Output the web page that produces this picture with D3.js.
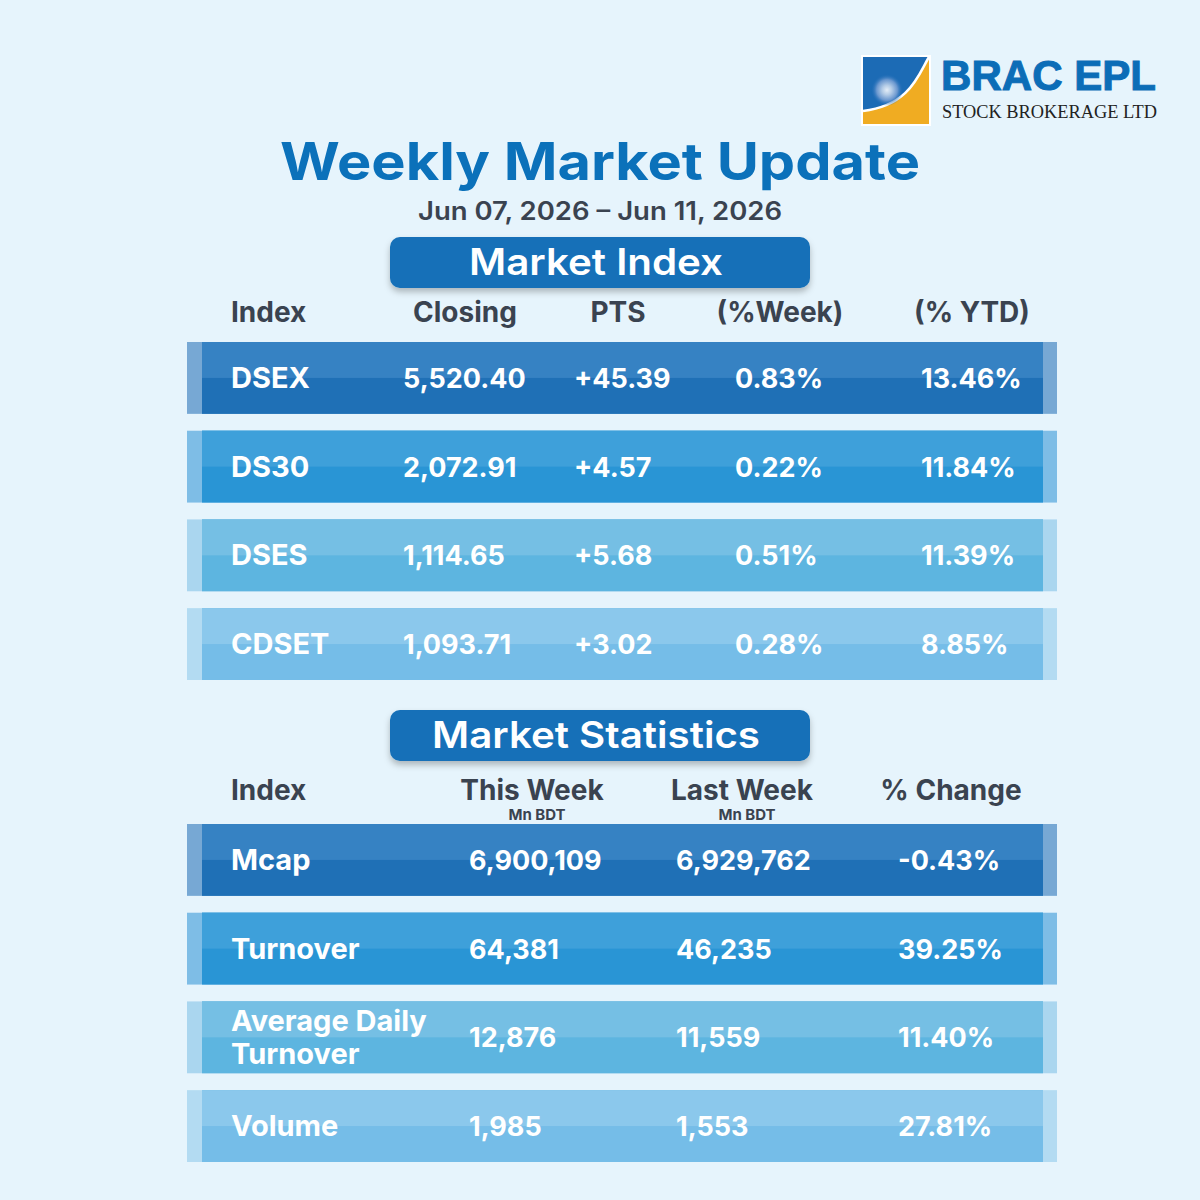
<!DOCTYPE html>
<html>
<head>
<meta charset="utf-8">
<script src="https://cdn.jsdelivr.net/npm/d3@7"></script>
<style>
  html, body { margin: 0; padding: 0; background: #e6f4fc; }
  svg { display: block; }
</style>
</head>
<body>
<div id="chart"></div>
<script>
// market index table
const indexNames = ['DSEX', 'DS30', 'DSES', 'CDSET'];
const closing = [5520.40, 2072.91, 1114.65, 1093.71];
const pts = [45.39, 4.57, 5.68, 3.02];
const weekPct = [0.83, 0.22, 0.51, 0.28];
const ytdPct = [13.46, 11.84, 11.39, 8.85];
const indexHeaders = ['Index', 'Closing', 'PTS', '(%Week)', '(% YTD)'];

// market statistics table
const statNames = ['Mcap', 'Turnover', 'Average Daily\nTurnover', 'Volume'];
const thisWeek = [6900109, 64381, 12876, 1985];
const lastWeek = [6929762, 46235, 11559, 1553];
const pctChange = [-0.43, 39.25, 11.40, 27.81];
const statHeaders = ['Index', 'This Week', 'Last Week', '% Change'];
const statUnits = ['', 'Mn BDT', 'Mn BDT', ''];

// row palettes, darkest first
const rowColors = [
    { cap: '#77a8d4', top: '#3682c3', bottom: '#1f70b6' },
    { cap: '#7ebde6', top: '#3ea0da', bottom: '#2995d5' },
    { cap: '#aad6ef', top: '#75bfe4', bottom: '#5db5e0' },
    { cap: '#b3dbf2', top: '#8bc8ec', bottom: '#75bde8' }
];

const W = 1200, H = 1200;
const FONT = 'Inter, "Open Sans", sans-serif';
const DARK = '#3a4350';
const BLUE = '#0b71ba';

// plain hyphen for negatives, like the source graphic
const loc = d3.formatLocale({ decimal: '.', thousands: ',', grouping: [3], currency: ['', ''], minus: '-' });

const svg = d3.select('#chart').append('svg')
    .attr('width', W).attr('height', H);

const defs = svg.append('defs');
const shadow = defs.append('filter').attr('id', 'shadow')
    .attr('x', '-10%').attr('y', '-20%').attr('width', '120%').attr('height', '160%');
shadow.append('feDropShadow').attr('dx', 0).attr('dy', 4).attr('stdDeviation', 3)
    .attr('flood-color', '#000').attr('flood-opacity', 0.25);

const glow = defs.append('radialGradient').attr('id', 'glow');
glow.append('stop').attr('offset', '0%').attr('stop-color', '#e4edf7');
glow.append('stop').attr('offset', '30%').attr('stop-color', '#b3cbe6');
glow.append('stop').attr('offset', '65%').attr('stop-color', '#6a97cf');
glow.append('stop').attr('offset', '100%').attr('stop-color', '#1b6ab6').attr('stop-opacity', 0);

svg.append('rect').attr('width', W).attr('height', H).attr('fill', '#e6f4fc');

// ---- logo ----
const logo = svg.append('g').attr('transform', 'translate(863,57)');
logo.append('rect').attr('x', -2).attr('y', -2).attr('width', 70).attr('height', 71).attr('fill', '#fff');
logo.append('rect').attr('width', 66).attr('height', 67).attr('fill', '#f0ac22');
logo.append('path').attr('d', 'M0,0 H66 C56,16 48,48 0,54 Z').attr('fill', '#1c6bb5');
logo.append('path').attr('d', 'M66,0 C56,16 48,48 0,54').attr('fill', 'none')
    .attr('stroke', '#fff').attr('stroke-width', 2.5);
logo.append('circle').attr('cx', 24).attr('cy', 33).attr('r', 16).attr('fill', 'url(#glow)');

svg.append('text').attr('x', 941).attr('y', 90)
    .attr('font-family', '"Liberation Sans", Arial, sans-serif').attr('font-weight', 700)
    .attr('font-size', 42).attr('fill', '#0c6db7')
    .attr('stroke', '#0c6db7').attr('stroke-width', 1)
    .attr('textLength', 215).attr('lengthAdjust', 'spacingAndGlyphs')
    .text('BRAC EPL');
svg.append('text').attr('x', 942).attr('y', 118)
    .attr('font-family', '"Liberation Serif", "DejaVu Serif", serif')
    .attr('font-size', 18).attr('fill', '#222')
    .attr('textLength', 215).attr('lengthAdjust', 'spacingAndGlyphs')
    .text('STOCK BROKERAGE LTD');

// ---- titles ----
svg.append('text').attr('x', 600).attr('y', 180).attr('text-anchor', 'middle')
    .attr('font-family', FONT).attr('font-weight', 700).attr('font-size', 52)
    .attr('fill', BLUE).attr('textLength', 640).attr('lengthAdjust', 'spacingAndGlyphs')
    .text('Weekly Market Update');
svg.append('text').attr('x', 600).attr('y', 220).attr('text-anchor', 'middle')
    .attr('font-family', FONT).attr('font-weight', 600).attr('font-size', 25)
    .attr('fill', DARK).attr('textLength', 364).attr('lengthAdjust', 'spacingAndGlyphs')
    .text('Jun 07, 2026 – Jun 11, 2026');

function sectionBox(y, label, len) {
    svg.append('rect').attr('x', 390).attr('y', y).attr('width', 420).attr('height', 51)
        .attr('rx', 10).attr('fill', '#1470b8').attr('filter', 'url(#shadow)');
    svg.append('text').attr('x', 596).attr('y', y + 38).attr('text-anchor', 'middle')
        .attr('font-family', FONT).attr('font-weight', 600).attr('font-size', 37)
        .attr('fill', '#fff').attr('textLength', len).attr('lengthAdjust', 'spacingAndGlyphs')
        .text(label);
}

function drawRows(yScale) {
    const rows = svg.append('g').selectAll('g')
        .data(d3.range(4)).join('g')
        .attr('transform', i => `translate(0,${yScale(i)})`);
    const bw = yScale.bandwidth();
    rows.append('rect').attr('x', 187).attr('width', 870).attr('height', bw)
        .attr('fill', i => rowColors[i].cap);
    rows.append('rect').attr('x', 202).attr('width', 841).attr('height', bw)
        .attr('fill', i => rowColors[i].bottom);
    rows.append('rect').attr('x', 202).attr('width', 841).attr('height', bw / 2)
        .attr('fill', i => rowColors[i].top);
    return rows;
}

function cellText(sel, x, y, size, fn) {
    sel.append('text').attr('x', x).attr('y', y)
        .attr('font-family', FONT).attr('font-weight', 700).attr('font-size', size)
        .attr('fill', '#fff')
        .text(fn);
}

// ---- market index ----
sectionBox(237, 'Market Index', 254);

const headerX1 = [231, 465, 618, 780, 972];
indexHeaders.forEach((h, j) => {
    svg.append('text').attr('x', headerX1[j]).attr('y', 322)
        .attr('text-anchor', j === 0 ? 'start' : 'middle')
        .attr('font-family', FONT).attr('font-weight', 700).attr('font-size', 28)
        .attr('fill', DARK).text(h);
});

const y1 = d3.scaleBand().domain(d3.range(4)).range([342, 680]).paddingInner(0.19);
const rows1 = drawRows(y1);
const base1 = y1.bandwidth() / 2 + 10;
const fmtClose = loc.format(',.2f');
const fmtPts = loc.format('+.2f');
const fmtPct = v => loc.format('.2f')(v) + '%';
const fmtInt = loc.format(',');
cellText(rows1, 231, base1, 29, i => indexNames[i]);
cellText(rows1, 403, base1, 27, i => fmtClose(closing[i]));
cellText(rows1, 574, base1, 27, i => fmtPts(pts[i]));
cellText(rows1, 735, base1, 27, i => fmtPct(weekPct[i]));
cellText(rows1, 921, base1, 27, i => fmtPct(ytdPct[i]));

// ---- market statistics ----
sectionBox(710, 'Market Statistics', 328);

const headerX2 = [231, 532, 742, 951];
statHeaders.forEach((h, j) => {
    svg.append('text').attr('x', headerX2[j]).attr('y', 800)
        .attr('text-anchor', j === 0 ? 'start' : 'middle')
        .attr('font-family', FONT).attr('font-weight', 700).attr('font-size', 28)
        .attr('fill', DARK).text(h);
    if (statUnits[j]) {
        svg.append('text').attr('x', headerX2[j] + 5).attr('y', 820)
            .attr('text-anchor', 'middle')
            .attr('font-family', FONT).attr('font-weight', 700).attr('font-size', 15)
            .attr('fill', DARK).text(statUnits[j]);
    }
});

const y2 = d3.scaleBand().domain(d3.range(4)).range([824, 1162]).paddingInner(0.19);
const rows2 = drawRows(y2);
const base2 = y2.bandwidth() / 2 + 10;

rows2.each(function (i) {
    const lines = statNames[i].split('\n');
    const g = d3.select(this);
    lines.forEach((ln, k) => {
        g.append('text').attr('x', 231)
            .attr('y', base2 + (k - (lines.length - 1) / 2) * 33)
            .attr('font-family', FONT).attr('font-weight', 700).attr('font-size', 29)
            .attr('fill', '#fff').text(ln);
    });
});
cellText(rows2, 469, base2, 27, i => fmtInt(thisWeek[i]));
cellText(rows2, 676, base2, 27, i => fmtInt(lastWeek[i]));
cellText(rows2, 898, base2, 27, i => fmtPct(pctChange[i]));
</script>
</body>
</html>
